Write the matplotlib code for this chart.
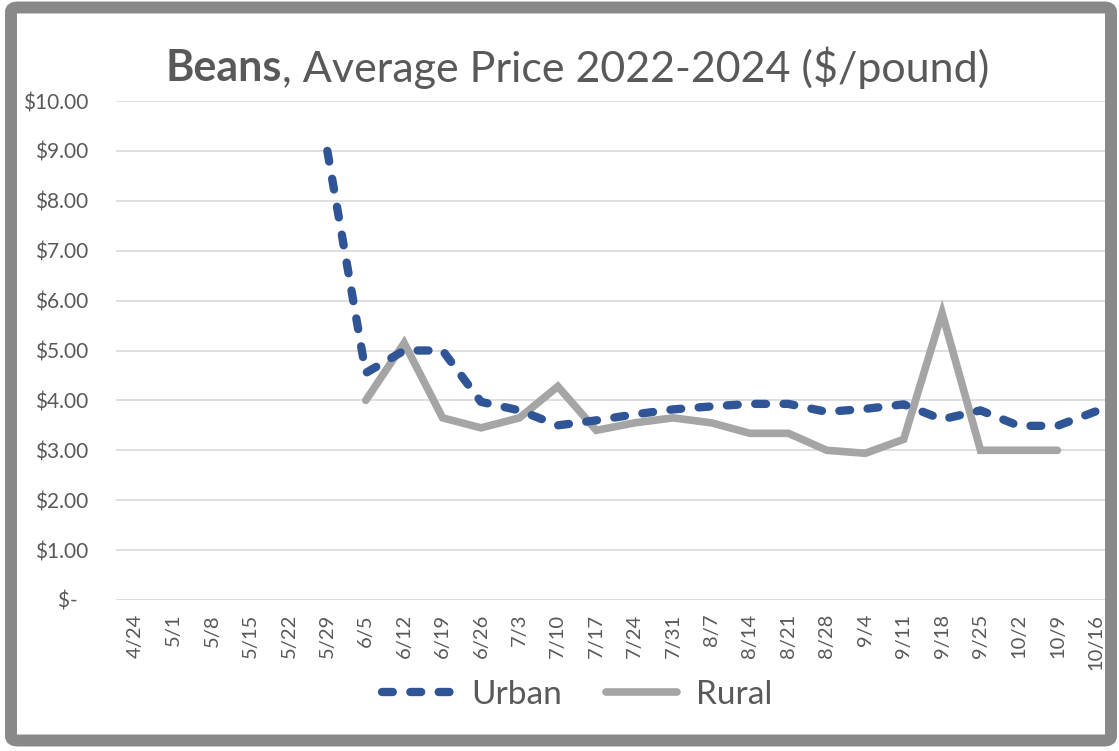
import matplotlib
matplotlib.use("Agg")
import matplotlib.pyplot as plt
from matplotlib.patches import FancyBboxPatch
import numpy as np

plt.rcParams['font.family'] = ['Lato', 'DejaVu Sans']

weeks = ['4/24', '5/1', '5/8', '5/15', '5/22', '5/29', '6/5', '6/12', '6/19',
         '6/26', '7/3', '7/10', '7/17', '7/24', '7/31', '8/7', '8/14', '8/21',
         '8/28', '9/4', '9/11', '9/18', '9/25', '10/2', '10/9', '10/16']
nan = np.nan
urban = [nan, nan, nan, nan, nan, 9.00, 4.55, 5.00, 5.00,
         3.97, 3.80, 3.50, 3.60, 3.72, 3.82, 3.88, 3.93, 3.93,
         3.77, 3.83, 3.92, 3.62, 3.80, 3.49, 3.49, 3.78]
rural = [nan, nan, nan, nan, nan, nan, 4.00, 5.15, 3.65,
         3.45, 3.65, 4.28, 3.40, 3.55, 3.65, 3.55, 3.34, 3.34,
         3.00, 2.94, 3.22, 5.75, 3.00, 3.00, 3.00, nan]
yticks = [0, 1, 2, 3, 4, 5, 6, 7, 8, 9, 10]
ylabels = ['$-  ', '$1.00', '$2.00', '$3.00', '$4.00', '$5.00', '$6.00',
           '$7.00', '$8.00', '$9.00', '$10.00']

txt = '#595959'
fig = plt.figure(figsize=(11.19, 7.51), dpi=100)
ax = fig.add_axes([116 / 1119, 151 / 751, 999 / 1119, 499 / 751])

x = np.arange(len(weeks))
ax.plot(x, urban, color='#2F5597', lw=6, linestyle=(0, (1.3, 2.1)),
        dash_capstyle='round', label='Urban', zorder=3)
ax.plot(x, rural, color='#A5A5A5', lw=5.5, solid_capstyle='round',
        solid_joinstyle='miter', label='Rural', zorder=2)

ax.set_xlim(-0.5, len(weeks) - 0.5)
ax.set_ylim(0, 10)
ax.set_yticks(yticks)
ax.set_yticklabels(ylabels)
ax.set_xticks(x)
ax.set_xticklabels(weeks, rotation=90)
ax.tick_params(axis='y', length=0, pad=20, labelsize=15, labelcolor=txt)
ax.tick_params(axis='x', length=0, pad=10, labelsize=14.5, labelcolor=txt)
ax.grid(axis='y', color='#D9D9D9', lw=1.2)
ax.set_axisbelow(True)
for s in ax.spines.values():
    s.set_visible(False)

leg = fig.legend(loc='center', bbox_to_anchor=(0.5156, 0.0746), ncol=2,
                 frameon=False, fontsize=24, handlelength=2.15,
                 handletextpad=0.55, columnspacing=1.3)
for t in leg.get_texts():
    t.set_color(txt)

# title with bold first word
fig.canvas.draw()
r = fig.canvas.get_renderer()
ty = 1 - 68 / 751
t1 = fig.text(0, ty, 'Beans', fontsize=31, fontweight='bold', color=txt, va='center')
t2 = fig.text(0, ty, ', Average Price 2022-2024 ($/pound)', fontsize=31, color=txt, va='center')
w1 = t1.get_window_extent(r).width
w2 = t2.get_window_extent(r).width
x0 = 577 - (w1 + w2) / 2
t1.set_x(x0 / 1119)
t2.set_x((x0 + w1) / 1119)

border = FancyBboxPatch((11 / 1119, 10.5 / 751), 1100 / 1119, 733 / 751,
                        boxstyle='round,pad=0,rounding_size=0.006',
                        transform=fig.transFigure, fill=False,
                        edgecolor='#898989', lw=8.6, zorder=10)
fig.patches.append(border)

fig.savefig('out.png', dpi=100)
